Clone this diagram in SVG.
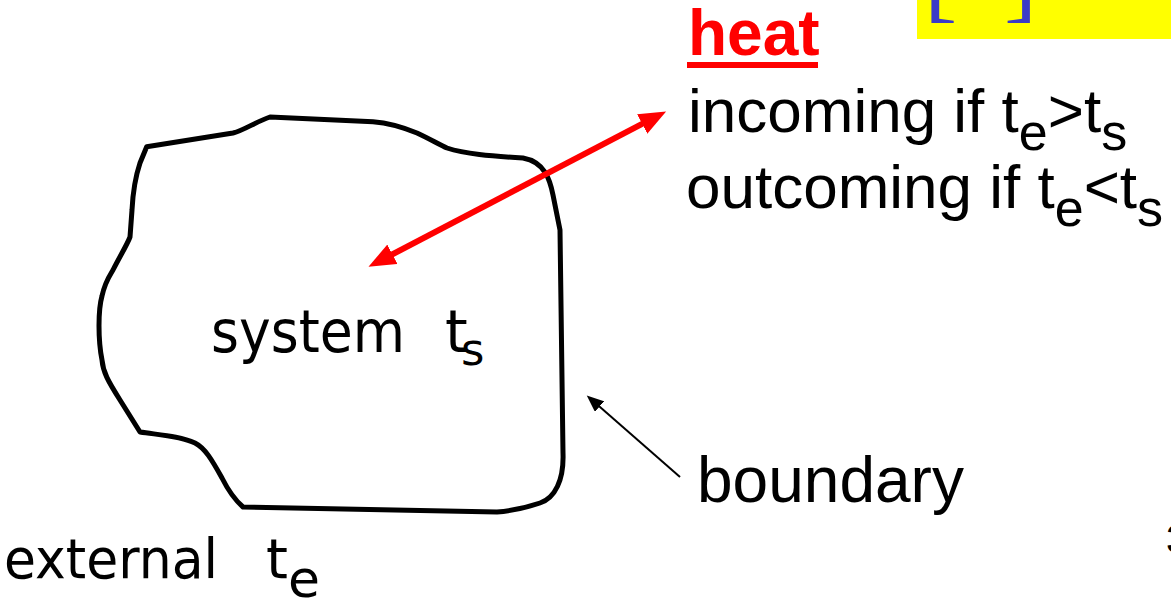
<svg xmlns="http://www.w3.org/2000/svg" width="1171" height="602" viewBox="0 0 1171 602">
<style>
.arial{font-family:"Liberation Sans",Arial,sans-serif;}
.serif{font-family:"Liberation Serif","Times New Roman",serif;}
.tah{font-family:"DejaVu Sans",Tahoma,Verdana,sans-serif;}
.blk{fill:#000;}
.unit{fill:#3b3bc8;}
</style>
<defs>
<marker id="redHead" markerUnits="userSpaceOnUse" markerWidth="28" markerHeight="22" refX="14" refY="11" orient="auto-start-reverse" viewBox="0 0 28 22">
<path d="M0,0 L27,11 L0,22 Z" fill="#ff0000"/>
</marker>
<marker id="blkHead" markerUnits="userSpaceOnUse" markerWidth="18" markerHeight="14" refX="10" refY="7" orient="auto" viewBox="0 0 18 14">
<path d="M0,0 L17,7 L0,14 Z" fill="#000"/>
</marker>
</defs>
<rect width="1171" height="602" fill="#fff"/>
<g id="unit-box">
<rect x="917" y="-5" width="260" height="44" fill="#ffff00"/>
<text x="924" y="10" class="serif unit" font-size="100">[</text>
<text x="968" y="-2" class="serif unit" font-size="100">J</text>
<text x="1004" y="10" class="serif unit" font-size="100">]</text>
</g>
<g id="system">
<path d="M146.7,146.7 L233,133 C245,130 255,122 270,117 L373,121.7 C390,123 405,128 417,133 C430,139 440,145 447,148 C465,154 490,156 523,158 C545,162 550,180 553,195 L560,230 L563,453 C564,480 555,498 540,503 C525,508 510,511 497,512 L243,507 C235,500 228,490 222,478 C212,460 205,448 195,443 C180,436 160,435 140,432 L120,400 C108,381 103,372 102,360 C98,340 98,310 102,296 C105,282 110,275 113,270 C120,256 127,245 130,237 L132,210 C133,190 136,175 140,163 Z" fill="none" stroke="#000" stroke-width="5" stroke-linejoin="round"/>
<text x="211" y="352" class="tah blk" font-size="58" textLength="194" lengthAdjust="spacingAndGlyphs">system</text>
<text x="445" y="352" class="tah blk" font-size="58">t</text>
<text x="461" y="365" class="tah blk" font-size="45">s</text>
</g>
<g id="external">
<text x="4" y="578" class="tah blk" font-size="56" textLength="214" lengthAdjust="spacingAndGlyphs">external</text>
<text x="266" y="578" class="tah blk" font-size="56">t</text>
<text x="288" y="597" class="tah blk" font-size="52">e</text>
</g>
<g id="heat-label">
<text x="688" y="55" class="arial" font-size="64" font-weight="bold" fill="#ff0000">heat</text>
<rect x="687" y="62" width="131" height="6" fill="#ff0000"/>
<text x="688" y="132" class="arial blk" font-size="62">incoming if t<tspan dy="18" font-size="52">e</tspan><tspan dy="-18">&gt;t</tspan><tspan dy="18" font-size="52">s</tspan></text>
<text x="686" y="208" class="arial blk" font-size="62">outcoming if t<tspan dy="18" font-size="52">e</tspan><tspan dy="-18">&lt;t</tspan><tspan dy="18" font-size="52">s</tspan></text>
</g>
<g id="boundary-label">
<text x="697" y="502" class="arial blk" font-size="64">boundary</text>
</g>
<g id="page-number">
<text x="1166" y="553" class="arial blk" font-size="40">3</text>
</g>
<g id="connectors">
<line x1="380" y1="260.8" x2="654.6" y2="117.4" stroke="#ff0000" stroke-width="6" marker-start="url(#redHead)" marker-end="url(#redHead)"/>
<line x1="680" y1="477" x2="592" y2="400" stroke="#000" stroke-width="2" marker-end="url(#blkHead)"/>
</g>
</svg>
